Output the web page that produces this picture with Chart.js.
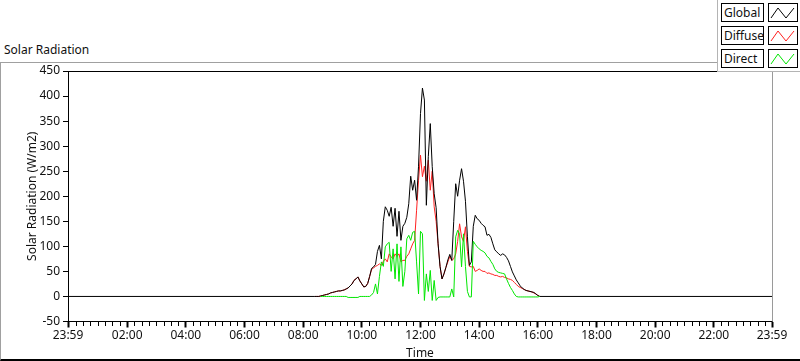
<!DOCTYPE html>
<html>
<head>
<meta charset="utf-8">
<script src="https://cdn.jsdelivr.net/npm/chart.js@4.4.1/dist/chart.umd.min.js"></script>
<style>
  html, body { margin: 0; padding: 0; background: #fff; }
  #wrap { position: relative; width: 800px; height: 361px; overflow: hidden; font-family: "Noto Sans", sans-serif; color: #111; }
  #frame { position: absolute; left: 0; top: 62px; width: 799px; height: 296px; border-left: 1px solid #a0a0a0; border-top: 1px solid #a0a0a0; border-bottom: 2px solid #000; }
  #title { position: absolute; left: 4px; top: 41px; font-size: 12px; }
  #chart { position: absolute; left: 0; top: 0; }
  #legend { position: absolute; left: 717px; top: 0; width: 83px; height: 71px; background: #fff; border-left: 1px solid #b4b4b4; border-bottom: 1px solid #b4b4b4; }
  .lab { position: absolute; left: 3px; width: 39px; height: 17px; border: 1px solid #000; font-size: 12px; line-height: 17px; padding-left: 2px; }
  .ico { position: absolute; left: 50px; width: 28px; height: 17px; border: 1px solid #000; }
  .ico svg { display: block; }
</style>
</head>
<body>
<div id="wrap">
  <div id="frame"></div>
  <div id="title">Solar Radiation</div>
  <canvas id="chart" width="800" height="361"></canvas>
  <div id="legend"></div>
</div>
<script>
// sampled every 4 minutes starting at 08:24
const startMin = 504;
const stepMin = 4;

const seriesNames = ["Global", "Diffuse", "Direct"];
const seriesColors = ["#000000", "#ff2020", "#00e600"];

const globalW = [
  0, 0, 0, 1, 2, 3, 4, 5, 7, 8,
  9, 10, 11, 11, 12, 13, 15, 17, 21, 25,
  32, 35, 39, 31, 25, 19, 20, 26, 40, 56,
  59, 64, 90, 102, 75, 150, 179, 172, 160, 178,
  140, 176, 120, 170, 112, 140, 146, 158, 185, 240,
  212, 232, 192, 260, 365, 416, 392, 182, 279, 345,
  259, 205, 177, 105, 60, 35, 45, 58, 73, 84,
  72, 150, 225, 200, 232, 255, 230, 190, 119, 62,
  69, 140, 162, 155, 152, 146, 142, 139, 122, 124,
  118, 105, 93, 89, 85, 82, 85, 83, 78, 71,
  60, 49, 41, 33, 27, 21, 17, 14, 12, 11,
  10, 9, 8, 5, 2, 0
];

const diffuseW = [
  0, 0, 0, 1, 2, 3, 4, 5, 7, 8,
  9, 10, 11, 11, 12, 13, 15, 17, 21, 25,
  32, 35, 39, 31, 25, 19, 20, 26, 40, 54,
  57, 60, 62, 65, 62, 70, 75, 69, 85, 79,
  75, 85, 80, 85, 69, 72, 72, 80, 85, 95,
  105, 112, 172, 232, 282, 239, 260, 230, 272, 212,
  250, 179, 150, 105, 60, 35, 45, 58, 69, 80,
  72, 75, 85, 110, 145, 119, 110, 139, 90, 60,
  59, 60, 50, 52, 55, 52, 50, 50, 46, 47,
  45, 44, 42, 42, 40, 39, 40, 38, 37, 35,
  34, 32, 28, 24, 20, 18, 16, 14, 12, 11,
  10, 9, 7, 5, 2, 0
];

const directW = [
  null, null, null, 0, 0, 0, 0, 0, 0, 0,
  0, 0, 0, 0, 0, 0, 0, -2, -2, -2,
  -2, -2, -2, 0, 0, 0, 0, 0, 0, 3,
  8, 25, 5, 40, 69, 60, 99, 105, 108, 50,
  95, 35, 105, 30, 99, 20, 50, 115, 122, 112,
  128, 130, 69, 5, 130, 125, -8, 45, 10, 52,
  -8, 32, -8, -2, -1, -1, -1, -1, -1, -1,
  15, -1, 119, 132, 125, 59, 125, 60, 10, -1,
  -1, 110, 104, 99, 95, 92, 90, 87, 80, 77,
  70, 64, 55, 50, 48, 47, 46, 45, 35, 26,
  18, 12, 5, 0, -1, -1, -1, -1, -1, -1,
  -1, -1, -1, -1, -1, 0
];

// night value (W/m2) at both ends of the day
const nightValue = 0;

// x axis: minutes since midnight, 23:59 of the previous day is -1
const tickMinutes = [-1, 120, 240, 360, 480, 600, 720, 840, 960, 1080, 1200, 1320, 1439];
const tickLabels = ["23:59", "02:00", "04:00", "06:00", "08:00", "10:00", "12:00", "14:00", "16:00", "18:00", "20:00", "22:00", "23:59"];

function toPoints(vals, withNight) {
  const pts = [];
  if (withNight) pts.push({ x: tickMinutes[0], y: nightValue });
  vals.forEach((v, i) => {
    if (v !== null) pts.push({ x: startMin + i * stepMin, y: v });
  });
  if (withNight) pts.push({ x: tickMinutes[tickMinutes.length - 1], y: nightValue });
  return pts;
}

const legendEl = document.getElementById("legend");
seriesNames.forEach((name, i) => {
  const top = 3 + i * 23;
  legendEl.insertAdjacentHTML("beforeend",
    `<div class="lab" style="top:${ top }px">${ name }</div>` +
    `<div class="ico" style="top:${ top }px"><svg width="28" height="17"><polyline points="2,14 9,4 17,14 25,4" fill="none" stroke="${ seriesColors[i] }" stroke-width="1"/></svg></div>`);
});

const frameLines = {
  id: "frameLines",
  afterDraw(chart) {
    const { ctx, chartArea: a, scales: { x } } = chart;
    ctx.save();
    ctx.lineWidth = 1;
    ctx.strokeStyle = "#000";
    ctx.beginPath();
    ctx.moveTo(a.left, Math.round(a.top) + 0.5);
    ctx.lineTo(a.right, Math.round(a.top) + 0.5);
    ctx.stroke();
    ctx.strokeStyle = "#9a9a9a";
    ctx.beginPath();
    ctx.moveTo(Math.round(a.right) + 0.5, a.top);
    ctx.lineTo(Math.round(a.right) + 0.5, a.bottom);
    ctx.stroke();
    // minor ticks every 15 minutes
    ctx.strokeStyle = "#000";
    ctx.beginPath();
    const yb = Math.round(a.bottom);
    for (let m = 15; m < 1439; m += 15) {
      if (m % 120 === 0) continue;
      const px = Math.round(x.getPixelForValue(m)) + 0.5;
      ctx.moveTo(px, yb);
      ctx.lineTo(px, yb + 4);
    }
    ctx.stroke();
    ctx.restore();
  }
};

const font = { family: "'Noto Sans', sans-serif", size: 12 };

new Chart(document.getElementById("chart"), {
  type: "line",
  data: {
    datasets: [
      { label: seriesNames[0], data: toPoints(globalW, true), borderColor: seriesColors[0], order: 1 },
      { label: seriesNames[1], data: toPoints(diffuseW, false), borderColor: seriesColors[1], order: 2 },
      { label: seriesNames[2], data: toPoints(directW, false), borderColor: seriesColors[2], order: 0 }
    ]
  },
  options: {
    responsive: false,
    animation: false,
    events: [],
    layout: { padding: { top: 71, right: 28, left: 0, bottom: 0 } },
    elements: {
      point: { radius: 0 },
      line: { borderWidth: 1, tension: 0 }
    },
    plugins: { legend: { display: false }, tooltip: { enabled: false } },
    scales: {
      x: {
        type: "linear",
        min: tickMinutes[0],
        max: tickMinutes[tickMinutes.length - 1],
        afterBuildTicks: (s) => { s.ticks = tickMinutes.map((v) => ({ value: v })); },
        afterFit: (s) => { s.height = 39.5; },
        grid: { drawOnChartArea: false, tickLength: 6, tickWidth: 2, tickColor: "#000" },
        border: { color: "#000", width: 1 },
        ticks: {
          autoSkip: false, maxRotation: 0, padding: 1, color: "#111", font,
          callback: (v) => tickLabels[tickMinutes.indexOf(v)]
        },
        title: { display: true, text: "Time", color: "#111", font, padding: { top: 0, bottom: 0 } }
      },
      y: {
        min: -50,
        max: 450,
        afterFit: (s) => { s.width = 68; },
        grid: { drawOnChartArea: false, tickLength: 5, tickColor: "#000" },
        border: { color: "#000", width: 1 },
        ticks: { stepSize: 50, padding: 3, color: "#111", font },
        title: { display: true, text: "Solar Radiation (W/m2)", color: "#111", font, padding: { top: 25, bottom: 0 } }
      }
    }
  },
  plugins: [frameLines]
});
</script>
</body>
</html>
